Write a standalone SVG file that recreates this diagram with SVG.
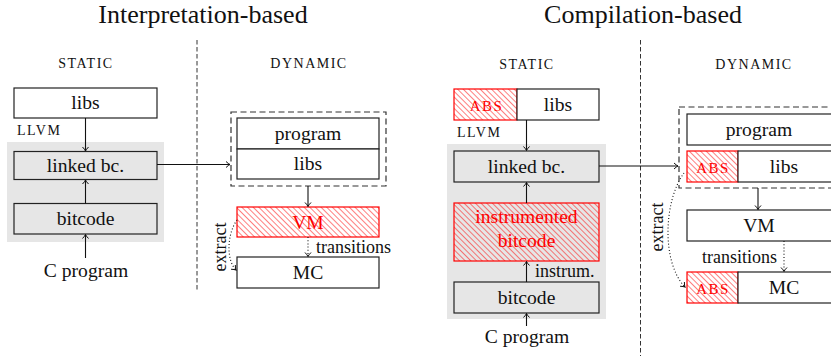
<svg xmlns="http://www.w3.org/2000/svg" width="831" height="356" viewBox="0 0 831 356" font-family="'Liberation Serif', serif">
<style>
text{font-family:"Liberation Serif",serif;fill:#111}
.t{font-size:26px;text-anchor:middle}
.sc{font-size:14px;letter-spacing:1.5px}
.abs{font-size:15px;letter-spacing:1.5px;text-anchor:middle;fill:#f00}
.c{text-anchor:middle}
.b{font-family:"Liberation Serif",serif;font-size:19.6px;text-anchor:middle}
.lb{font-size:18px}
.red{fill:#f00}
.box{fill:#fff;stroke:#222;stroke-width:1.2}
.gbox{fill:#e6e6e6;stroke:#222;stroke-width:1.2}
.hbox{fill:url(#hatch);stroke:#f00;stroke-width:1.2}
.hboxw{fill:url(#hatchw);stroke:#f00;stroke-width:1.2}
.bg{fill:#e6e6e6}
.sep{stroke:#333;stroke-width:1;stroke-dasharray:4.5 2.5;fill:none}
.dbox{fill:none;stroke:#333;stroke-width:1.2;stroke-dasharray:6 3.5}
.ar{stroke:#111;stroke-width:1.1;fill:none;marker-end:url(#ah)}
.dot{stroke:#111;stroke-width:1.1;fill:none;stroke-dasharray:1 2.2;marker-end:url(#ah)}
</style>
<defs>
<pattern id="hatch" width="4" height="4" patternUnits="userSpaceOnUse" patternTransform="rotate(-45)">
<line x1="0" y1="0" x2="0" y2="4" stroke="#f00" stroke-width="1"/>
</pattern>
<pattern id="hatchw" width="4" height="4" patternUnits="userSpaceOnUse" patternTransform="rotate(-45)">
<rect width="4" height="4" fill="#fff"/>
<line x1="0" y1="0" x2="0" y2="4" stroke="#f00" stroke-width="1"/>
</pattern>
<marker id="ah" viewBox="-5 -4 6 8" refX="0" refY="0" markerWidth="6" markerHeight="8" markerUnits="userSpaceOnUse" orient="auto">
<path d="M-4,-3 Q-1.5,-0.6 0,0 Q-1.5,0.6 -4,3" fill="none" stroke="#111" stroke-width="1"/>
</marker>
</defs>

<g id="titles">
<text class="t" x="203" y="23">Interpretation-based</text>
<text class="t" x="643" y="23">Compilation-based</text>
<text class="sc c" x="86" y="68">STATIC</text>
<text class="sc c" x="309" y="68">DYNAMIC</text>
<text class="sc c" x="527" y="69">STATIC</text>
<text class="sc c" x="754" y="69">DYNAMIC</text>
</g>

<g id="separators">
<line class="sep" x1="197" y1="40" x2="197" y2="291"/>
<line class="sep" x1="640.5" y1="40" x2="640.5" y2="356"/>
</g>

<g id="static-bg">
<rect class="bg" x="7" y="142" width="157" height="100"/>
<rect class="bg" x="447" y="144" width="159" height="175"/>
</g>

<!-- Left: interpretation-based -->
<g id="l-libs">
<rect class="box" x="14" y="88" width="143" height="30"/>
<text class="b" x="85.5" y="109">libs</text>
</g>
<g id="l-llvm"><text class="sc" x="17" y="135">LLVM</text></g>
<g id="l-linked">
<rect class="gbox" x="14" y="151.5" width="143" height="28"/>
<text class="b" x="85.5" y="172">linked bc.</text>
</g>
<g id="l-bitcode">
<rect class="gbox" x="14" y="203.5" width="143" height="30.5"/>
<text class="b" x="85.5" y="225">bitcode</text>
</g>
<g id="l-cprog"><text class="b" x="86" y="277">C program</text></g>

<g id="l-dyn-group">
<rect class="dbox" x="231" y="112" width="155" height="74"/>
</g>
<g id="l-program">
<rect class="box" x="237" y="118" width="142" height="31"/>
<text class="b" x="308" y="140">program</text>
</g>
<g id="l-dlibs">
<rect class="box" x="237" y="149" width="142" height="30"/>
<text class="b" x="308" y="170">libs</text>
</g>
<g id="l-vm">
<rect class="hboxw" x="237" y="207" width="142" height="30"/>
<text class="b red" x="308" y="229">VM</text>
</g>
<g id="l-mc">
<rect class="box" x="237" y="257" width="142" height="31"/>
<text class="b" x="308" y="279">MC</text>
</g>

<!-- Right: compilation-based -->
<g id="r-libs">
<rect class="hboxw" x="454" y="89" width="63" height="31"/>
<text class="abs" x="486.5" y="110.5">ABS</text>
<rect class="box" x="517" y="89" width="82" height="31"/>
<text class="b" x="558" y="111">libs</text>
</g>
<g id="r-llvm"><text class="sc" x="457" y="137">LLVM</text></g>
<g id="r-linked">
<rect class="gbox" x="454" y="151" width="145" height="31"/>
<text class="b" x="526.5" y="173">linked bc.</text>
</g>
<g id="r-instr">
<rect class="hbox" x="454" y="203" width="145" height="58"/>
<text class="b red" x="526.5" y="223">instrumented</text>
<text class="b red" x="526.5" y="247">bitcode</text>
</g>
<g id="r-bitcode">
<rect class="gbox" x="454" y="282" width="145" height="31"/>
<text class="b" x="526.5" y="304">bitcode</text>
</g>
<g id="r-cprog"><text class="b" x="527" y="343">C program</text></g>

<g id="r-dyn-group">
<rect class="dbox" x="679" y="107" width="170" height="81"/>
</g>
<g id="r-program">
<rect class="box" x="687" y="114" width="160" height="31"/>
<text class="b" x="759" y="136">program</text>
</g>
<g id="r-dlibs">
<rect class="hboxw" x="687" y="151" width="51" height="31"/>
<text class="abs" x="713" y="172.5">ABS</text>
<rect class="box" x="738" y="151" width="110" height="31"/>
<text class="b" x="784" y="173">libs</text>
</g>
<g id="r-vm">
<rect class="box" x="687" y="210" width="160" height="31"/>
<text class="b" x="759" y="232">VM</text>
</g>
<g id="r-mc">
<rect class="hboxw" x="687" y="272" width="51" height="31"/>
<text class="abs" x="713" y="293.5">ABS</text>
<rect class="box" x="738" y="272" width="110" height="31"/>
<text class="b" x="784" y="294">MC</text>
</g>

<g id="connectors">
<line class="ar" x1="85.5" y1="118" x2="85.5" y2="151"/>
<line class="ar" x1="85.5" y1="203.5" x2="85.5" y2="180"/>
<line class="ar" x1="85.5" y1="258" x2="85.5" y2="234.5"/>
<line class="ar" x1="157" y1="164.5" x2="230" y2="164.5"/>
<line class="ar" x1="308" y1="186" x2="308" y2="206.5"/>
<line class="dot" x1="308" y1="237" x2="308" y2="256.5"/>
<path class="dot" d="M237,220 C227,234 226,260 236,270"/>

<line class="ar" x1="526.5" y1="120" x2="526.5" y2="150.5"/>
<line class="ar" x1="526.5" y1="203" x2="526.5" y2="182.5"/>
<line class="ar" x1="526.5" y1="282" x2="526.5" y2="261.5"/>
<line class="ar" x1="526.5" y1="326" x2="526.5" y2="313.5"/>
<line class="ar" x1="599" y1="166" x2="678" y2="166"/>
<line class="ar" x1="758" y1="188" x2="758" y2="209.5"/>
<line class="dot" x1="784" y1="241" x2="784" y2="271.5"/>
<path class="dot" d="M684,173 C664,200 661,262 685,287"/>
</g>

<g id="labels">
<text class="lb" x="316" y="253">transitions</text>
<text class="lb" x="777" y="263" text-anchor="end">transitions</text>
<text class="lb" x="535" y="277">instrum.</text>
<text class="lb c" transform="translate(226,247) rotate(-90)">extract</text>
<text class="lb c" transform="translate(663,227) rotate(-90)">extract</text>
</g>
</svg>
